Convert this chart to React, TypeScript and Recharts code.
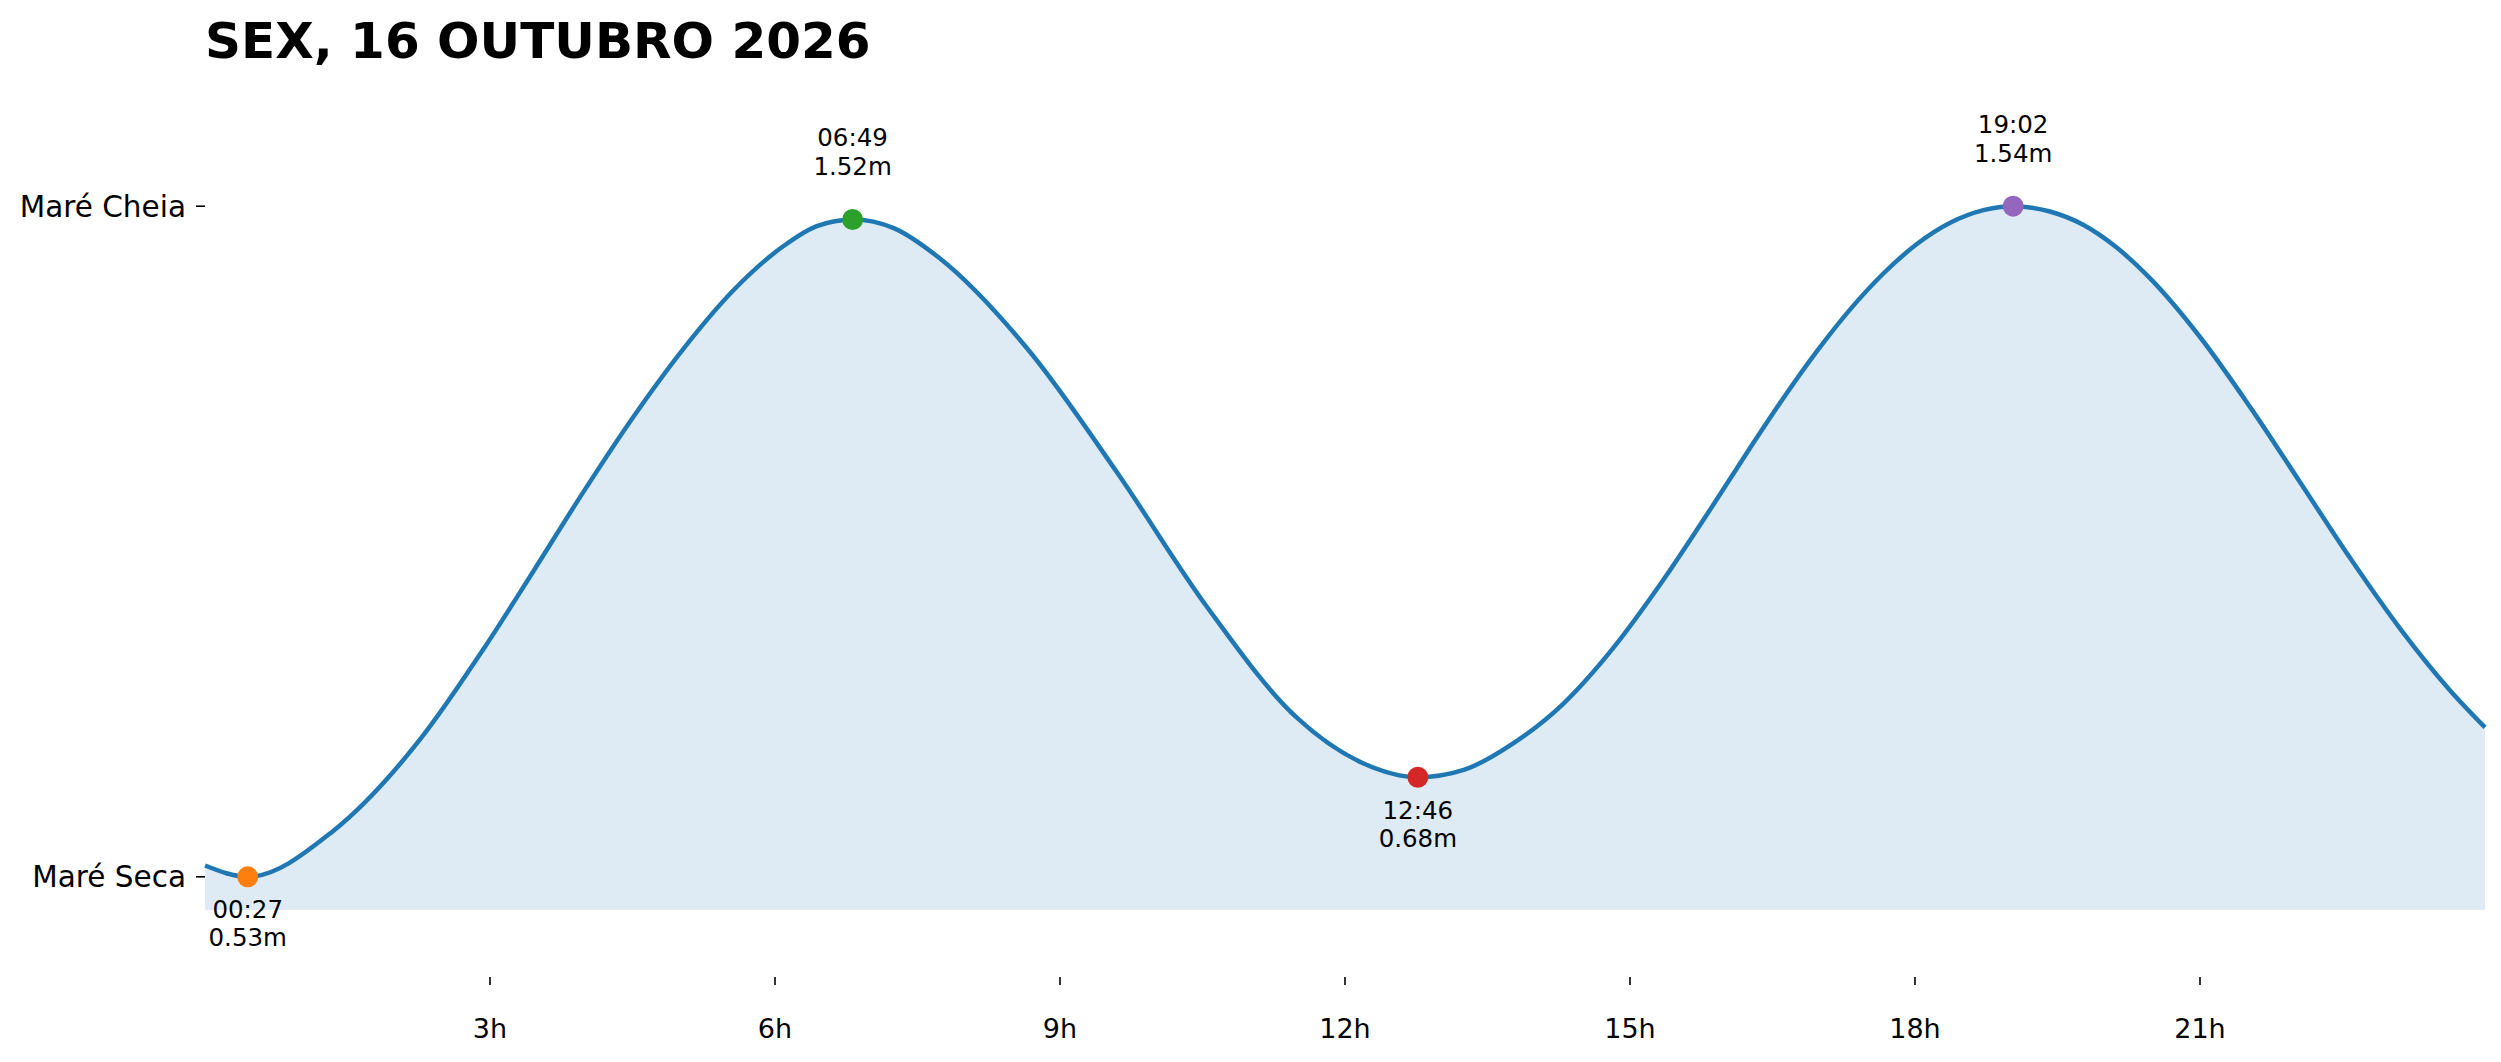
import { ComposedChart, Area, Scatter, XAxis, YAxis, Cell } from 'recharts';

// tide curve (hour of day, height in m)
const HOURS = [
  0, 0.45, 1.34, 2.27, 2.95, 3.46, 3.98, 4.51, 5.04, 5.56, 6.09, 6.44, 6.82, 7.25, 7.73,
  8.67, 9.61, 10.55, 11.49, 12.19, 12.77, 13.25, 13.77, 14.3, 14.82, 15.35, 15.88, 16.26,
  16.61, 16.97, 17.32, 17.67, 18.02, 18.37, 18.72, 19.03, 19.42, 19.77, 20.12, 20.47, 21.0,
  21.53, 22.05, 22.58, 23.11, 23.63, 24,
];
const HEIGHTS = [
  0.547, 0.53, 0.598, 0.738, 0.877, 0.991, 1.109, 1.223, 1.326, 1.413, 1.48, 1.51, 1.52,
  1.507, 1.462, 1.323, 1.137, 0.936, 0.77, 0.701, 0.68, 0.691, 0.731, 0.791, 0.874, 0.977,
  1.091, 1.175, 1.25, 1.322, 1.385, 1.439, 1.483, 1.515, 1.534, 1.54, 1.532, 1.512, 1.478,
  1.432, 1.343, 1.237, 1.125, 1.01, 0.903, 0.811, 0.755,
];

// high / low tides
const EXTREME_TIMES = ['00:27', '06:49', '12:46', '19:02'];
const EXTREME_HOURS = [0.45, 6.8167, 12.7667, 19.0333];
const EXTREME_HEIGHTS = [0.53, 1.52, 0.68, 1.54];
const EXTREME_KINDS = ['low', 'high', 'low', 'high'];

const X_TICKS = [3, 6, 9, 12, 15, 18, 21];
const Y_TICKS = [0.53, 1.54];
const Y_TICK_LABELS = ['Maré Seca', 'Maré Cheia'];

const TITLE = 'SEX, 16 OUTUBRO 2026';

const FONT = '"DejaVu Sans", sans-serif';
const LINE_COLOR = '#1f77b4';
const DOT_COLORS = ['#ff7f0e', '#2ca02c', '#d62728', '#9467bd'];

const tideData = HOURS.map((h, i) => ({ h, height: HEIGHTS[i] }));
const extremes = EXTREME_HOURS.map((h, i) => ({
  h,
  height: EXTREME_HEIGHTS[i],
  time: EXTREME_TIMES[i],
  kind: EXTREME_KINDS[i],
}));

const XTick = (props: any) => {
  const { x, y, payload } = props;
  return (
    <g>
      <line x1={x} x2={x} y1={y + 67} y2={y + 75} stroke="#000" strokeWidth={1.6} />
      <text
        x={x}
        y={y + 118}
        textAnchor="middle"
        dominantBaseline="central"
        fontSize={27}
        fontFamily={FONT}
        fill="#000"
      >
        {`${payload.value}h`}
      </text>
    </g>
  );
};

const ExtremeDot = (props: any) => {
  const { cx, cy, fill, payload } = props;
  const low = payload.kind === 'low';
  const t1 = low ? cy + 33 : cy - 82;
  const t2 = low ? cy + 61 : cy - 53;
  const txt = { textAnchor: 'middle' as const, dominantBaseline: 'central' as const, fontSize: 24.5, fontFamily: FONT, fill: '#000' };
  return (
    <g>
      <circle cx={cx} cy={cy} r={10.5} fill={fill} />
      <text x={cx} y={t1} {...txt}>{payload.time}</text>
      <text x={cx} y={t2} {...txt}>{`${payload.height.toFixed(2)}m`}</text>
    </g>
  );
};

const App = () => {
  return (
    <div style={{ position: 'absolute', left: 0, top: 0, width: 2501, height: 1062, background: '#fff' }}>
      <div
        style={{
          position: 'absolute',
          left: 205,
          top: 16,
          fontFamily: FONT,
          fontWeight: 'bold',
          fontSize: 50,
          lineHeight: '50px',
          color: '#000',
          whiteSpace: 'nowrap',
          zIndex: 2,
        }}
      >
        {TITLE}
      </div>
      <ComposedChart
        width={2501}
        height={1062}
        data={tideData}
        margin={{ top: 173, right: 16, left: 0, bottom: 0 }}
      >
        <XAxis
          dataKey="h"
          type="number"
          domain={[0, 24]}
          ticks={X_TICKS}
          axisLine={false}
          tickLine={false}
          tickSize={0}
          tickMargin={0}
          height={152}
          tick={XTick}
          interval={0}
        />
        <YAxis
          type="number"
          domain={[0.48, 1.59]}
          ticks={Y_TICKS}
          axisLine={false}
          width={205}
          tickSize={9}
          tickMargin={10}
          interval={0}
          tickLine={{ stroke: '#000', strokeWidth: 1.6 }}
          tick={{ fontSize: 29.5, fontFamily: FONT, fill: '#000' }}
          tickFormatter={(v: number) => Y_TICK_LABELS[Y_TICKS.indexOf(v)]}
        />
        <Area
          type="monotone"
          dataKey="height"
          stroke={LINE_COLOR}
          strokeWidth={4.5}
          fill={LINE_COLOR}
          fillOpacity={0.15}
          dot={false}
          activeDot={false}
          isAnimationActive={false}
        />
        <Scatter data={extremes} dataKey="height" shape={ExtremeDot} isAnimationActive={false}>
          {extremes.map((e, i) => (
            <Cell key={e.time} fill={DOT_COLORS[i]} />
          ))}
        </Scatter>
      </ComposedChart>
    </div>
  );
};

export default App;
